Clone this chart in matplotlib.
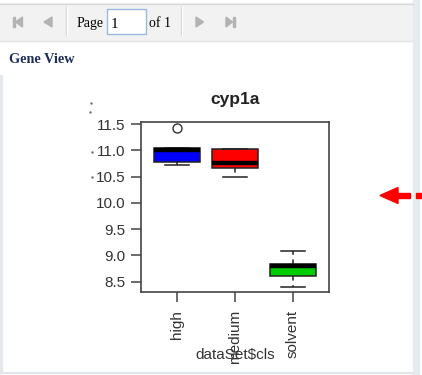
import matplotlib
matplotlib.use('Agg')
import matplotlib.pyplot as plt
import numpy as np
from matplotlib.patches import Rectangle, Polygon

# expression summary per class for cyp1a
groups = ['high', 'medium', 'solvent']
q1 = [10.775, 10.67, 8.60]
med = [11.0, 10.755, 8.80]
q3 = [11.04, 11.02, 8.84]
whis_lo = [10.72, 10.49, 8.40]
whis_hi = [11.04, 11.03, 9.08]
outliers = [[11.435], [], []]
box_colors = ['#0000ff', '#ff0000', '#00cd00']
yticks = [8.5, 9.0, 9.5, 10.0, 10.5, 11.0, 11.5]

W, H = 422, 375
fig = plt.figure(figsize=(W / 100, H / 100), dpi=100)

# page chrome drawn in pixel coordinates
bg = fig.add_axes([0, 0, 1, 1])
bg.set_xlim(0, W)
bg.set_ylim(H, 0)
bg.axis('off')

bg.add_patch(Rectangle((0, 0), W, H, color='white'))
bg.add_patch(Rectangle((0, 3), 413, 38, color='#f2f2f2'))
bg.plot([0, 413], [3.5, 3.5], color='#d9d9d9', lw=1)
bg.plot([0, 413], [40.5, 40.5], color='#e6e6e6', lw=1)

# header band with a soft vertical gradient
grad = np.linspace(0, 1, 50).reshape(-1, 1)
top = np.array([0.97, 0.98, 0.99])
bot = np.array([0.91, 0.93, 0.95])
img = top + grad[..., None] * (bot - top)
bg.imshow(img, extent=(0, 413, 75, 41), aspect='auto', interpolation='bilinear')
bg.text(9, 63, 'Gene View', family='Liberation Serif', weight='bold',
        fontsize=10.3, color='#1c2b5a', va='baseline')

# right side strip and frame lines
bg.add_patch(Rectangle((413, 0), 6, H, color='#e5eaef'))
bg.add_patch(Rectangle((0, 75), 2, 298, color='#e3e8ed'))
bg.plot([0, 413], [373, 373], color='#e0e5ea', lw=1.5)

# pager toolbar
icon = '#b3b3b3'
bg.add_patch(Rectangle((12.7, 17), 2, 10, color=icon))
bg.add_patch(Polygon([[22.5, 17], [22.5, 27], [15.5, 22]], color=icon))
bg.add_patch(Polygon([[52, 17], [52, 27], [44, 22]], color=icon))
bg.add_patch(Polygon([[196, 17], [196, 27], [203.5, 22]], color=icon))
bg.add_patch(Polygon([[226, 17], [226, 27], [232.5, 22]], color=icon))
bg.add_patch(Rectangle((233, 17), 2, 10, color=icon))
for sx in [66, 180.5]:
    bg.plot([sx, sx], [7, 35], color='#d2d2d2', lw=1)
    bg.plot([sx + 1, sx + 1], [7, 35], color='white', lw=1)
bg.text(77, 27, 'Page', family='Liberation Serif', fontsize=10,
        color='black', va='baseline')
bg.add_patch(Rectangle((107, 8.5), 39, 25.5, facecolor='white',
                       edgecolor='#9ab8e0', lw=1))
bg.text(111, 28, '1', family='Liberation Serif', fontsize=11,
        color='black', va='baseline')
bg.text(149, 27, 'of 1', family='Liberation Serif', fontsize=10,
        color='black', va='baseline')

# red dashed pointer on the right
red = '#ff0000'
bg.add_patch(Polygon([[380, 195.5], [398, 187.5], [398, 203.5]], color=red))
bg.add_patch(Rectangle((397, 193), 13, 5, color=red))
bg.add_patch(Rectangle((416, 193), 6, 5, color=red))

# stray marks left of the tick labels
bg.plot([91, 90, 92, 92], [103, 112, 152, 177], ls='none', marker='.',
        ms=1.6, color='#777777')

# boxplot panel
ax = fig.add_axes([141 / W, 1 - 292 / H, 188 / W, 170 / H])
stats = []
for i in range(len(groups)):
    stats.append(dict(med=med[i], q1=q1[i], q3=q3[i], whislo=whis_lo[i],
                      whishi=whis_hi[i], fliers=outliers[i]))
bp = ax.bxp(stats, positions=[1, 2, 3], widths=0.8, capwidths=0.4,
            patch_artist=True,
            boxprops=dict(edgecolor='#222222', lw=1.1),
            medianprops=dict(color='black', lw=3.2, solid_capstyle='butt'),
            whiskerprops=dict(color='#222222', lw=1.1, ls=(0, (3, 3))),
            capprops=dict(color='#222222', lw=1.1),
            flierprops=dict(marker='o', mfc='white', mec='#333333', ms=6.5, mew=1))
for patch, c in zip(bp['boxes'], box_colors):
    patch.set_facecolor(c)

ax.set_xlim(0.38, 3.62)
ax.set_ylim(8.3, 11.54)
ax.set_yticks(yticks)
ax.set_yticklabels([f'{v:.1f}' for v in yticks])
ax.set_xticks([1, 2, 3])
ax.set_xticklabels(groups, rotation=90)
for s in ax.spines.values():
    s.set_color('#444444')
    s.set_linewidth(1.2)
ax.tick_params(axis='both', length=7.5, width=1.1, color='#444444',
               labelsize=11, labelcolor='#333333')
ax.tick_params(axis='y', pad=4)
ax.tick_params(axis='x', pad=5.5)
for lab in ax.get_xticklabels() + ax.get_yticklabels():
    lab.set_family('Liberation Sans')

ax.set_title('cyp1a', family='Liberation Sans', weight='bold', fontsize=12.5,
             color='#222222', pad=13)
fig.text(235.5 / W, 1 - 355 / H, 'dataSet$cls', family='Liberation Sans',
         fontsize=11, color='#333333', ha='center', va='center')

fig.savefig('out.png', dpi=100)
